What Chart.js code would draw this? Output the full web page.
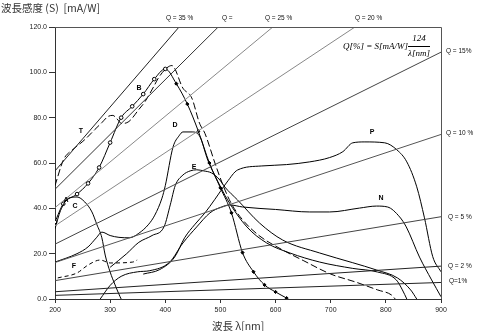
<!DOCTYPE html>
<html>
<head>
<meta charset="utf-8">
<style>
  html, body { margin: 0; padding: 0; background: #fff; }
</style>
<script src="https://cdn.jsdelivr.net/npm/chart.js@4.4.1/dist/chart.umd.min.js"></script>
</head>
<body>
<canvas id="chart" width="479" height="331"></canvas>
<script>
// Quantum efficiency reference lines (start at 200 nm, end at frame)
const qNames = ['35', '30', '25', '20', '15', '10', '5', '2', '1'];
const qStartSens = [56.5, 48.4, 40.3, 32.3, 24.2, 16.1, 8.1, 3.2, 1.6];
const qEndWave = [425, 496, 595, 744, 900, 900, 900, 900, 900];
const qEndSens = [120, 120, 120, 120, 108.9, 72.6, 36.3, 14.5, 7.3];
const qColors = ['#222', '#333', '#888', '#888', '#444', '#555', '#444', '#222', '#222'];

// Spectral response curves (wavelength nm / sensitivity mA/W)
const waveB = [200, 215, 240, 260, 280, 300, 320, 340, 360, 380, 400, 420, 440, 460, 480, 500, 520, 540, 560, 580, 600, 620];
const sensB = [34, 42, 46.3, 51, 58, 69, 80, 85, 90.4, 97, 101.5, 95, 86, 74, 60, 49, 38, 20.5, 12, 6.2, 3.1, 0.4];

const waveT = [200, 213, 218, 231, 254, 272, 285, 296, 305, 312, 321, 334, 352, 363, 379, 388, 403, 412, 432, 448, 462, 472, 490, 505, 520, 540, 570, 610, 650, 700, 745, 785, 810, 817];
const sensT = [50, 60, 62.6, 65.7, 70.3, 74.7, 77.8, 80.5, 81, 79.6, 77.4, 78.3, 83.6, 87, 93.7, 97.7, 102, 103, 93, 88.7, 77.6, 73, 60, 50, 42, 35, 28, 22, 17, 11, 7.5, 4, 1.8, 0];

const waveC = [200, 210, 225, 240, 254, 267, 276, 285, 291, 300, 309, 318, 320];
const sensC = [31, 39, 44.5, 45, 42.8, 38.4, 32.8, 27, 19.4, 11.9, 6.2, 1, 0];

const waveD = [200, 220, 240, 260, 275, 285, 300, 316, 335, 352, 370, 381, 394, 400, 414, 425, 432, 450, 463, 477, 495, 513, 548, 584, 626, 680, 740, 785, 819, 830, 838];
const sensD = [16.3, 18, 20, 23, 27, 29.5, 28, 27.2, 27, 29, 33, 37, 44.5, 50, 67, 72, 73.7, 73.7, 71.5, 61.3, 52, 43.7, 31.8, 24.7, 20.3, 16.3, 13.5, 11.9, 8.4, 4, 0];

const waveE = [300, 330, 352, 376, 398, 409, 418, 432, 445, 457, 470, 484, 499, 508, 531, 571, 613, 680, 740, 783, 821, 845, 856];
const sensE = [14, 20, 25, 28, 32, 41.5, 50, 54.7, 56.5, 57, 56.5, 55.6, 52.5, 49.4, 43.7, 33.5, 26, 20.3, 16, 12.8, 9.3, 4, 0];

const waveF = [205, 240, 260, 282, 300, 341, 349];
const sensF = [9.3, 11.5, 15, 17.2, 15.9, 16.3, 17.2];

const waveN = [282, 300, 320, 350, 372, 408, 432, 457, 481, 502, 517, 540, 600, 662, 698, 752, 783, 803, 825, 837, 861, 883, 900];
const sensN = [0, 6, 10, 12, 12.5, 16.3, 24.7, 31.8, 38, 40.6, 41.5, 40.6, 39.5, 38.4, 38.4, 40.1, 41, 40.6, 36.2, 31.8, 18.5, 8.4, 1];

const waveP = [360, 390, 417, 435, 454, 472, 490, 512, 531, 575, 620, 662, 698, 722, 740, 762, 798, 820, 838, 856, 870, 885, 900];
const sensP = [11, 13, 18.5, 27, 33, 38, 44, 51.6, 56.9, 58.7, 59.3, 60.5, 62.4, 65, 68.9, 69.3, 68.9, 65.8, 60.5, 49.5, 35.8, 18.7, 12];

const toPts = (xs, ys) => xs.map((x, i) => ({ x: x, y: ys[i] }));

// Build datasets
const datasets = [];
qNames.forEach((q, i) => {
    datasets.push({
        label: 'Q = ' + q + ' %',
        data: [{ x: 200, y: qStartSens[i] }, { x: qEndWave[i], y: qEndSens[i] }],
        borderColor: qColors[i],
        borderWidth: 1,
        pointRadius: 0,
        tension: 0
    });
});

function curve(label, xs, ys, dash) {
    return {
        label: label,
        data: toPts(xs, ys),
        borderColor: '#000',
        borderWidth: 1,
        borderDash: dash || [],
        pointRadius: 0,
        cubicInterpolationMode: 'monotone'
    };
}

datasets.push(curve('T', waveT, sensT, [7, 3]));
datasets.push(curve('C', waveC, sensC));
datasets.push(curve('D', waveD, sensD));
datasets.push(curve('E', waveE, sensE));
datasets.push(curve('F', waveF, sensF, [4, 3]));
datasets.push(curve('N', waveN, sensN));
datasets.push(curve('P', waveP, sensP));

// B: open circles on the rising side, small filled diamonds after the peak
const bMarks = curve('B', waveB, sensB);
bMarks.pointStyle = waveB.map(w => w <= 400 ? 'circle' : 'rectRot');
bMarks.pointRadius = waveB.map(w => w <= 400 ? 1.8 : 1.6);
bMarks.pointBackgroundColor = waveB.map(w => w <= 400 ? '#fff' : '#000');
bMarks.pointBorderColor = '#000';
bMarks.pointBorderWidth = 1;
datasets.push(bMarks);

// Texts, frame and formula
const decorPlugin = {
    id: 'decor',
    afterDraw(chart) {
        const c = chart.ctx;
        const a = chart.chartArea;
        c.save();
        // frame (top / right)
        c.lineWidth = 1;
        c.strokeStyle = '#555';
        c.beginPath();
        c.moveTo(a.left, a.top + 0.5);
        c.lineTo(a.right + 0.5, a.top + 0.5);
        c.lineTo(a.right + 0.5, a.bottom);
        c.stroke();

        c.fillStyle = '#333';
        c.textBaseline = 'middle';
        c.textAlign = 'left';
        c.font = '10.5px "Noto Sans CJK JP"';
        c.fillText('波長感度 (S)  [mA/W]', 1, 8);
        c.fillText('波長 λ[nm]', 212, 326);

        // Q labels
        c.font = '6.5px "Liberation Sans", Arial';
        c.fillStyle = '#111';
        c.fillText('Q = 35 %', 166, 18);
        c.fillText('Q =', 222, 18);
        c.fillText('Q = 25 %', 265, 18);
        c.fillText('Q = 20 %', 355, 18);
        c.fillText('Q = 15%', 446, 51);
        c.fillText('Q = 10 %', 446, 133);
        c.fillText('Q = 5 %', 448, 217);
        c.fillText('Q = 2 %', 448, 266);
        c.fillText('Q=1%', 449, 281);

        // curve labels
        c.font = 'bold 7px "Liberation Sans", Arial';
        c.textAlign = 'center';
        c.fillStyle = '#000';
        [['T', 81, 131], ['B', 139, 88], ['A', 66, 200], ['C', 75, 206], ['D', 175, 125],
         ['E', 194, 167], ['F', 74, 266], ['P', 372, 132], ['N', 381, 198]].forEach(l => {
            c.fillText(l[0], l[1], l[2]);
        });

        // formula
        c.font = 'italic 9px "Liberation Serif", serif';
        c.textAlign = 'left';
        c.fillText('Q[%] = S[mA/W]', 343, 47);
        c.textAlign = 'center';
        c.fillText('124', 419, 39);
        c.fillText('λ[nm]', 419, 54);
        c.beginPath();
        c.moveTo(408, 46.5);
        c.lineTo(430, 46.5);
        c.strokeStyle = '#000';
        c.stroke();
        c.restore();
    }
};

const ctx = document.getElementById('chart').getContext('2d');
new Chart(ctx, {
    type: 'line',
    data: { datasets: datasets },
    options: {
        responsive: false,
        animation: false,
        layout: { padding: { left: 0, right: 38, top: 27, bottom: 0 } },
        plugins: { legend: { display: false }, tooltip: { enabled: false } },
        scales: {
            x: {
                type: 'linear',
                min: 200,
                max: 900,
                ticks: { stepSize: 100, color: '#222', padding: 3, font: { size: 7, family: '"Liberation Sans", Arial' } },
                grid: { drawOnChartArea: false, tickLength: 4, color: '#333' },
                border: { color: '#333' },
                afterFit(s) { s.height = 32; }
            },
            y: {
                min: 0,
                max: 120,
                ticks: { stepSize: 20, color: '#222', padding: 2, font: { size: 7, family: '"Liberation Sans", Arial' },
                         callback: v => v.toFixed(1) },
                grid: { drawOnChartArea: false, tickLength: 6, color: '#333' },
                border: { color: '#333' },
                afterFit(s) { s.width = 55; }
            }
        }
    },
    plugins: [decorPlugin]
});
</script>
</body>
</html>
